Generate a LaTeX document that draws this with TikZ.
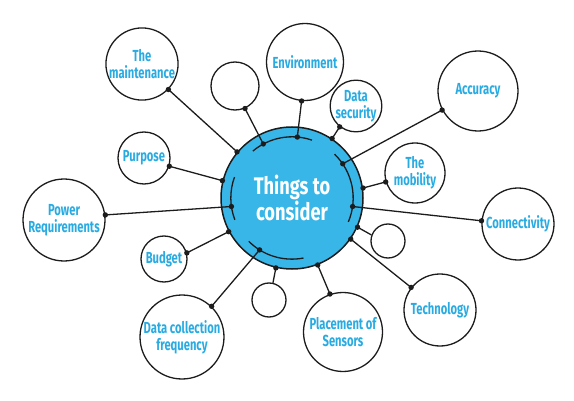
\documentclass[tikz,border=0pt]{standalone}
\usepackage{fontspec}
\setmainfont{Fira Sans}
\newfontfamily\lblfont[FakeStretch=0.70]{Fira Sans}
\newfontfamily\ctrfont[FakeStretch=0.76]{Fira Sans}
\definecolor{hub}{RGB}{56,182,232}
\definecolor{lbl}{RGB}{41,171,226}
\definecolor{ink}{RGB}{28,28,28}
\tikzset{
  topic/.style={circle,draw=ink,line width=1.3pt,inner sep=0pt,text=lbl,align=center,
    font=\lblfont\bfseries\fontsize{16}{17}\selectfont},
  hubnode/.style={circle,fill=hub,draw=ink,line width=1.5pt,minimum size=142pt,inner sep=0pt,
    text=white,align=center,font=\ctrfont\bfseries\fontsize{24}{26}\selectfont},
  ringnode/.style={circle,minimum size=122pt,inner sep=0pt},
  link/.style={draw=ink,line width=1.3pt},
}
\newcommand\dotat[1]{\fill[ink] (#1) circle (2.7);}
\begin{document}
\begin{tikzpicture}[x=1pt,y=1pt]
\useasboundingbox (0,0) rectangle (574,400);
% hub
\node[hubnode] (C) at (292,202) {Things to\\consider};
\node[ringnode] (R) at (292,202) {};
\draw[link] (R.71) arc[start angle=71,end angle=130,radius=61];
\draw[link] (R.-23) arc[start angle=-23,end angle=46,radius=61];
\draw[link] (R.-135) arc[start angle=-135,end angle=-79,radius=61];
\draw[link] (R.160) arc[start angle=160,end angle=201,radius=61];
% topics
\node[topic,minimum size=70pt] (M) at (142,336) {The\\maintenance};
\node[topic,minimum size=48pt] (ST) at (235,314) {};
\node[topic,minimum size=52pt] (P) at (144,242) {Purpose};
\node[topic,minimum size=82pt] (PR) at (64,180) {Power\\Requirements};
\node[topic,minimum size=46pt] (B) at (164,141) {Budget};
\node[topic,minimum size=84pt] (DC) at (182,63) {Data collection\\frequency};
\node[topic,minimum size=34pt] (SB) at (269,100) {};
\node[topic,minimum size=79pt] (PS) at (343,68) {Placement of\\Sensors};
\node[topic,minimum size=72pt] (T) at (440,90) {Technology};
\node[topic,minimum size=34pt] (SR) at (388,159) {};
\node[topic,minimum size=72pt] (CO) at (518,176) {Connectivity};
\node[topic,minimum size=60pt] (MO) at (415,227) {The\\mobility};
\node[topic,minimum size=80pt] (A) at (478,309) {Accuracy};
\node[topic,minimum size=48pt] (DS) at (356,294) {Data\\security};
\node[topic,minimum size=77pt] (E) at (305,338) {Environment};
% connectors
\draw[link] (M.-44) -- (C.140.6); \dotat{M.-44} \dotat{C.140.6}
\draw[link] (ST.-66) -- (R.118); \dotat{ST.-66} \dotat{R.118}
\draw[link] (P.-18) -- (C.166); \dotat{P.-18} \dotat{C.166}
\draw[link] (PR.7) -- (R.188); \dotat{PR.7} \dotat{R.188}
\draw[link] (B.15) -- (C.208); \dotat{B.15} \dotat{C.208}
\draw[link] (DC.46) -- (R.-122); \dotat{DC.46} \dotat{R.-122}
\draw[link] (SB.77) -- (C.-103); \dotat{C.-103}
\draw[link] (PS.109) -- (C.-69); \dotat{PS.109} \dotat{C.-69}
\draw[link] (T.142) -- (C.-35.5); \dotat{T.142} \dotat{C.-35.5}
\draw[link] (SR.160) -- (C.-24); \dotat{C.-24}
\draw[link] (CO.175) -- (R.-8.5); \dotat{CO.175} \dotat{R.-8.5}
\draw[link] (MO.-163) -- (C.8); \dotat{MO.-163} \dotat{C.8}
\draw[link] (A.208) -- (R.34); \dotat{A.208} \dotat{R.34}
\draw[link] (DS.232) -- (C.56.5); \dotat{DS.232} \dotat{C.56.5}
\draw[link] (E.265.5) -- (R.85.5); \dotat{E.265.5} \dotat{R.85.5}
\end{tikzpicture}
\end{document}
